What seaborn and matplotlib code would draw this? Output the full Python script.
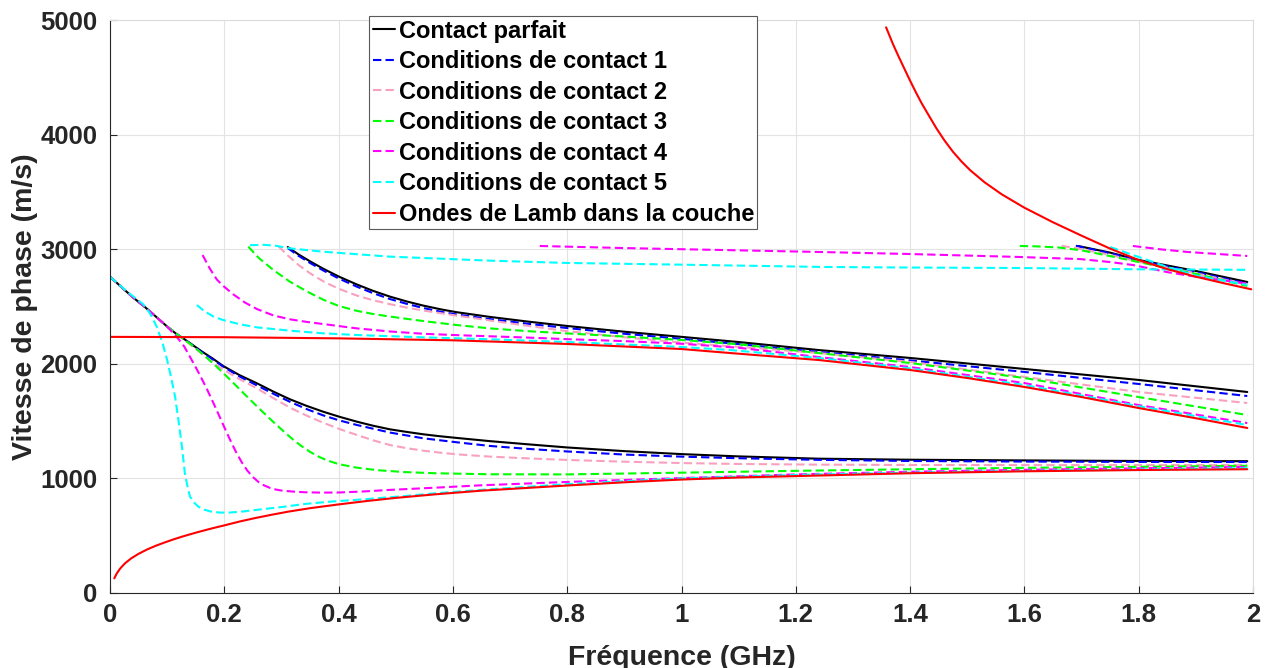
import matplotlib
matplotlib.use('Agg')

import matplotlib.pyplot as plt
import seaborn as sns

sns.set_theme(style="whitegrid")
plt.rcParams['font.family'] = ['Liberation Sans', 'DejaVu Sans']
plt.rcParams['font.weight'] = 'bold'
plt.rcParams['axes.labelweight'] = 'bold'

# --- Contact parfait (black) ---
black_f1 = [0, 0.02, 0.04, 0.06, 0.075, 0.1, 0.12, 0.126, 0.14, 0.16, 0.18, 0.198, 0.227, 0.257, 0.286, 0.315, 0.344, 0.373,
            0.402, 0.432, 0.46, 0.49, 0.52, 0.548, 0.577, 0.607, 0.665, 0.73, 0.8, 0.9, 1.0, 1.1, 1.24, 1.4, 1.6, 1.8, 1.99]
black_v1 = [2760, 2670, 2580, 2500, 2435, 2325, 2245, 2230, 2180, 2110, 2045, 1981, 1900, 1830, 1757, 1690, 1633, 1582,
            1537, 1495, 1460, 1428, 1405, 1385, 1368, 1353, 1325, 1298, 1270, 1238, 1212, 1192, 1172, 1163, 1157, 1152, 1150]
black_f2 = [0.311, 0.33, 0.35, 0.373, 0.4, 0.432, 0.46, 0.49, 0.52, 0.548, 0.58, 0.607, 0.665, 0.73, 0.8, 0.9, 1.0, 1.1,
            1.24, 1.4, 1.6, 1.8, 1.99]
black_v2 = [3019, 2954, 2894, 2830, 2762, 2692, 2637, 2586, 2543, 2508, 2474, 2450, 2409, 2369, 2330, 2280, 2235, 2190,
            2120, 2051, 1955, 1859, 1754]
black_f3 = [1.694, 1.75, 1.8, 1.85, 1.9, 1.99]
black_v3 = [3028, 2970, 2906, 2858, 2810, 2714]

# --- Conditions de contact 1 (blue) ---
c1_f1 = [0, 0.02, 0.04, 0.06, 0.075, 0.1, 0.126, 0.14, 0.16, 0.18, 0.198, 0.227, 0.257, 0.286, 0.315, 0.344, 0.373, 0.402,
         0.432, 0.49, 0.548, 0.607, 0.665, 0.73, 0.8, 0.9, 1.0, 1.1, 1.24, 1.4, 1.6, 1.8, 1.99]
c1_v1 = [2760, 2670, 2580, 2500, 2435, 2325, 2228, 2178, 2105, 2038, 1975, 1888, 1812, 1738, 1668, 1605, 1550, 1505,
         1466, 1400, 1350, 1315, 1283, 1258, 1235, 1208, 1190, 1176, 1162, 1152, 1147, 1144, 1143]
c1_f2 = [0.311, 0.33, 0.35, 0.373, 0.4, 0.432, 0.46, 0.49, 0.52, 0.548, 0.58, 0.607, 0.665, 0.73, 0.8, 0.9, 1.0, 1.1,
         1.24, 1.4, 1.6, 1.8, 1.99]
c1_v2 = [3010, 2942, 2880, 2815, 2745, 2673, 2617, 2565, 2522, 2487, 2453, 2430, 2390, 2350, 2312, 2262, 2218, 2172,
         2103, 2030, 1929, 1824, 1719]
c1_f3 = [1.69, 1.75, 1.8, 1.85, 1.9, 1.99]
c1_v3 = [3030, 2965, 2900, 2850, 2800, 2700]

# --- Conditions de contact 2 (pink) ---
c2_f1 = [0, 0.02, 0.04, 0.06, 0.075, 0.1, 0.126, 0.14, 0.16, 0.18, 0.198, 0.227, 0.257, 0.286, 0.315, 0.344, 0.373, 0.402,
         0.432, 0.46, 0.49, 0.52, 0.548, 0.577, 0.607, 0.665, 0.73, 0.8, 0.9, 1.0, 1.1, 1.24, 1.4, 1.6, 1.8, 1.99]
c2_v1 = [2760, 2670, 2580, 2500, 2435, 2325, 2225, 2170, 2090, 2010, 1950, 1865, 1786, 1700, 1617, 1548, 1486, 1430,
         1379, 1333, 1291, 1263, 1242, 1225, 1210, 1190, 1175, 1161, 1146, 1134, 1126, 1120, 1117, 1116, 1116, 1117]
c2_f2 = [0.295, 0.31, 0.33, 0.35, 0.373, 0.4, 0.432, 0.46, 0.49, 0.52, 0.548, 0.607, 0.665, 0.73, 0.8, 0.9, 1.0, 1.1,
         1.24, 1.4, 1.6, 1.8, 1.99]
c2_v2 = [3025, 2950, 2862, 2790, 2720, 2655, 2595, 2555, 2520, 2490, 2465, 2420, 2378, 2332, 2285, 2232, 2185, 2148,
         2094, 2016, 1885, 1754, 1658]
c2_f3 = [1.665, 1.7, 1.75, 1.8, 1.85, 1.9, 1.99]
c2_v3 = [3030, 3000, 2950, 2890, 2840, 2790, 2690]

# --- Conditions de contact 3 (green) ---
c3_f1 = [0, 0.02, 0.04, 0.06, 0.075, 0.1, 0.126, 0.14, 0.155, 0.17, 0.185, 0.2, 0.215, 0.23, 0.245, 0.26, 0.275, 0.29,
         0.305, 0.32, 0.335, 0.35, 0.365, 0.38, 0.4, 0.43, 0.467, 0.516, 0.569, 0.665, 0.8, 1.0, 1.2, 1.4, 1.6, 1.8, 1.99]
c3_v1 = [2760, 2670, 2580, 2500, 2435, 2325, 2225, 2175, 2115, 2050, 1982, 1910, 1837, 1762, 1688, 1615, 1543, 1473,
         1405, 1340, 1282, 1232, 1190, 1157, 1125, 1095, 1072, 1055, 1045, 1036, 1035, 1050, 1066, 1080, 1092, 1101, 1110]
c3_f2 = [0.242, 0.26, 0.286, 0.315, 0.345, 0.373, 0.4, 0.432, 0.46, 0.49, 0.548, 0.607, 0.665, 0.73, 0.8, 0.9, 1.0,
         1.1, 1.24, 1.4, 1.6, 1.8, 1.99]
c3_v2 = [3022, 2925, 2818, 2716, 2630, 2560, 2505, 2462, 2435, 2412, 2373, 2338, 2309, 2285, 2265, 2238, 2208,
         2170, 2094, 2007, 1876, 1710, 1553]
c3_f3 = [1.592, 1.62, 1.66, 1.7, 1.75, 1.8, 1.85, 1.9, 1.99]
c3_v3 = [3028, 3025, 3015, 2990, 2940, 2888, 2835, 2785, 2679]

# --- Conditions de contact 4 (magenta) ---
c4_f1 = [0, 0.02, 0.04, 0.06, 0.075, 0.1, 0.12, 0.13, 0.14, 0.15, 0.16, 0.17, 0.18, 0.19, 0.2, 0.21, 0.22, 0.23, 0.24,
         0.25, 0.26, 0.27, 0.28, 0.29, 0.3, 0.32, 0.341, 0.37, 0.4, 0.44, 0.487, 0.569, 0.65, 0.8, 1.0, 1.2, 1.4, 1.6,
         1.8, 1.99]
c4_v1 = [2760, 2670, 2580, 2500, 2435, 2325, 2215, 2150, 2060, 1970, 1875, 1775, 1668, 1558, 1447, 1338, 1235, 1145, 1070,
         1012, 968, 938, 917, 903, 894, 885, 879, 876, 877, 885, 899, 919, 940, 969, 1003, 1035, 1058, 1075,
         1088, 1100]
c4_f2 = [0.162, 0.175, 0.187, 0.198, 0.216, 0.236, 0.257, 0.286, 0.315, 0.345, 0.373, 0.432, 0.49, 0.548, 0.607,
         0.665, 0.73, 0.8, 0.9, 1.0, 1.1, 1.24, 1.4, 1.6, 1.8, 1.99]
c4_v2 = [2949, 2828, 2735, 2680, 2605, 2535, 2478, 2422, 2388, 2365, 2347, 2309, 2282, 2262, 2250,
         2240, 2229, 2215, 2198, 2175, 2140, 2059, 1972, 1832, 1640, 1483]
c4_f3 = [0.752, 0.9, 1.0, 1.1, 1.248, 1.4, 1.592, 1.697, 1.75, 1.79, 1.85, 1.9, 1.99]
c4_v3 = [3028, 3010, 3000, 2990, 2975, 2958, 2932, 2914, 2888, 2862, 2800, 2760, 2700]
c4_f4 = [1.79, 1.84, 1.885, 1.99]
c4_v4 = [3028, 2998, 2976, 2941]

# --- Conditions de contact 5 (cyan) ---
c5_f1 = [0, 0.03, 0.058, 0.07, 0.082, 0.092, 0.1, 0.107, 0.114, 0.12, 0.126, 0.131, 0.136, 0.14, 0.147, 0.1546,
         0.165, 0.178, 0.192, 0.207, 0.23, 0.254, 0.3, 0.341, 0.385, 0.429, 0.47, 0.516, 0.569, 0.65, 0.8, 1.0,
         1.2, 1.4, 1.6, 1.8, 1.99]
c5_v1 = [2760, 2630, 2520, 2440, 2321, 2180, 2033, 1880, 1710, 1500, 1274, 1045, 920, 840, 790, 753,
         727, 709, 702, 701, 710, 724, 750, 777, 797, 812, 828, 846, 870, 900, 950, 1000,
         1030, 1050, 1066, 1078, 1090]
c5_f2 = [0.152, 0.165, 0.181, 0.198, 0.227, 0.257, 0.315, 0.373, 0.432, 0.548, 0.665, 0.8, 1.0, 1.085, 1.24, 1.4,
         1.6, 1.8, 1.99]
c5_v2 = [2513, 2460, 2412, 2382, 2345, 2318, 2289, 2266, 2251, 2231, 2214, 2190, 2147, 2120, 2051, 1960,
         1815, 1630, 1466]
c5_f3 = [0.245, 0.27, 0.29, 0.315, 0.373, 0.49, 0.665, 0.8, 1.0, 1.248, 1.4, 1.592, 1.79, 1.99]
c5_v3 = [3035, 3038, 3030, 3007, 2978, 2935, 2900, 2880, 2865, 2845, 2840, 2836, 2825, 2820]
c5_f4 = [1.75, 1.8, 1.85, 1.9, 1.99]
c5_v4 = [3019, 2932, 2845, 2770, 2688]

# --- Ondes de Lamb dans la couche (red) ---
lamb_f1 = [0.0075, 0.012, 0.018, 0.026, 0.037, 0.05, 0.065, 0.08, 0.095, 0.11, 0.125, 0.14, 0.155, 0.17, 0.185,
           0.2, 0.227, 0.254, 0.283, 0.312, 0.35, 0.4, 0.45, 0.5, 0.569, 0.65, 0.8, 0.9, 1.0, 1.1, 1.24,
           1.4, 1.6, 1.8, 1.99]
lamb_v1 = [128, 172, 215, 258, 302, 342, 380, 412, 440, 466, 490, 512, 533, 553, 572,
           590, 624, 654, 683, 710, 740, 773, 803, 830, 861, 893, 938, 966, 990, 1008, 1025,
           1045, 1062, 1073, 1080]
lamb_f2 = [0, 0.2, 0.4, 0.6, 0.8, 1.0, 1.085, 1.24, 1.4, 1.5, 1.6, 1.7, 1.8, 1.9, 1.99]
lamb_v2 = [2235, 2232, 2222, 2205, 2173, 2129, 2094, 2033, 1946, 1876, 1798, 1710, 1614, 1525, 1440]
lamb_f3 = [1.358, 1.37, 1.38, 1.39, 1.4, 1.41, 1.42, 1.43, 1.446, 1.46, 1.475, 1.49, 1.505, 1.53, 1.56, 1.6, 1.65,
           1.7, 1.75, 1.8, 1.85, 1.9, 1.95, 1.997]
lamb_v3 = [4936, 4790, 4680, 4575, 4470, 4370, 4275, 4190, 4055, 3950, 3850, 3765, 3690, 3585, 3480, 3362, 3235,
           3118, 3005, 2905, 2826, 2760, 2702, 2650]

series = [
    ("Contact parfait", "black", "-", [(black_f1, black_v1), (black_f2, black_v2), (black_f3, black_v3)]),
    ("Conditions de contact 1", "#0000FF", "--", [(c1_f1, c1_v1), (c1_f2, c1_v2), (c1_f3, c1_v3)]),
    ("Conditions de contact 2", "#F9A0C0", "--", [(c2_f1, c2_v1), (c2_f2, c2_v2), (c2_f3, c2_v3)]),
    ("Conditions de contact 3", "#00FF00", "--", [(c3_f1, c3_v1), (c3_f2, c3_v2), (c3_f3, c3_v3)]),
    ("Conditions de contact 4", "#FF00FF", "--", [(c4_f1, c4_v1), (c4_f2, c4_v2), (c4_f3, c4_v3), (c4_f4, c4_v4)]),
    ("Conditions de contact 5", "#00FFFF", "--", [(c5_f1, c5_v1), (c5_f2, c5_v2), (c5_f3, c5_v3), (c5_f4, c5_v4)]),
    ("Ondes de Lamb dans la couche", "#FF0000", "-", [(lamb_f1, lamb_v1), (lamb_f2, lamb_v2), (lamb_f3, lamb_v3)]),
]

fig = plt.figure(figsize=(12.72, 6.68), dpi=100)
ax = fig.add_axes([110 / 1272, 75 / 668, 1143 / 1272, 573 / 668])

for label, color, ls, branches in series:
    style = (0, (4, 2)) if ls == "--" else "-"
    for i, (f, v) in enumerate(branches):
        sns.lineplot(x=f, y=v, ax=ax, color=color, linestyle=style, linewidth=1.5,
                     sort=False, estimator=None, legend=False,
                     label=label if i == 0 else None)

ax.set_xlim(0, 2)
ax.set_ylim(0, 5000)
ax.set_xticks([0, 0.2, 0.4, 0.6, 0.8, 1, 1.2, 1.4, 1.6, 1.8, 2])
ax.set_xticklabels(["0", "0.2", "0.4", "0.6", "0.8", "1", "1.2", "1.4", "1.6", "1.8", "2"])
ax.set_yticks([0, 1000, 2000, 3000, 4000, 5000])
ax.grid(True, color="#e3e3e3", linewidth=0.8)
ax.set_facecolor("white")

for side in ["left", "bottom"]:
    ax.spines[side].set_color("#262626")
    ax.spines[side].set_linewidth(0.8)
for side in ["top", "right"]:
    ax.spines[side].set_color("#dcdcdc")
    ax.spines[side].set_linewidth(0.8)

ax.tick_params(axis="both", direction="in", length=5, width=0.8, color="#262626",
               labelsize=18.5, labelcolor="#262626", left=True, bottom=True)
ax.tick_params(axis="x", pad=7)
ax.tick_params(axis="y", pad=9)

ax.set_xlabel("Fréquence (GHz)", fontsize=20.5, fontweight="bold", color="#262626", labelpad=13)
ax.set_ylabel("Vitesse de phase (m/s)", fontsize=20.5, fontweight="bold", color="#262626", labelpad=2)

handles, labels = ax.get_legend_handles_labels()
leg = ax.legend(handles, labels, loc="upper left", bbox_to_anchor=(369 / 1272, 1 - 16 / 668),
                bbox_transform=fig.transFigure, borderaxespad=0, fontsize=17,
                frameon=True, fancybox=False, framealpha=1, edgecolor="#5a5a5a",
                handlelength=0.95, handletextpad=0.15, borderpad=0.15, labelspacing=0.32)
leg.get_frame().set_linewidth(0.8)
for t in leg.get_texts():
    t.set_fontweight("bold")
    t.set_color("black")

fig.savefig("out.png", dpi=100, facecolor="white")
